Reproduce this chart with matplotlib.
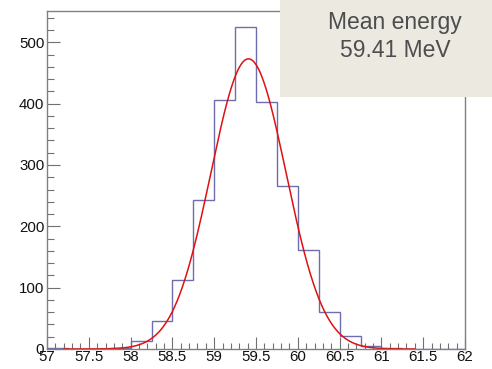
import numpy as np
import matplotlib
matplotlib.use("Agg")
import matplotlib.pyplot as plt
from matplotlib.patches import Rectangle
from matplotlib.ticker import MultipleLocator

# Data
bin_edges = [57.0, 57.25, 57.5, 57.75, 58.0, 58.25, 58.5, 58.75, 59.0, 59.25,
             59.5, 59.75, 60.0, 60.25, 60.5, 60.75, 61.0, 61.25, 61.5, 61.75, 62.0]
counts = [1, 0, 0, 1, 13, 46, 112, 243, 406, 525, 402, 266, 161, 60, 22, 5, 1, 0, 0, 0]
fit_amplitude = 473.0
fit_mean = 59.41
fit_sigma = 0.45
fit_range = (57.2, 61.4)
label_lines = ["Mean energy", "59.41 MeV"]
xtick_labels = ['57', '57.5', '58', '58.5', '59', '59.5', '60', '60.5', '61', '61.5', '62']

plt.rcParams['font.family'] = ['Liberation Sans', 'DejaVu Sans']

fig = plt.figure(figsize=(4.92, 3.69), dpi=100)
ax = fig.add_axes([47/492, 1-349/369, (465-47)/492, (349-11)/369])

ax.stairs(counts, bin_edges, color='#6e6eae', linewidth=1.0)
xf = np.linspace(fit_range[0], fit_range[1], 600)
yf = fit_amplitude * np.exp(-0.5 * ((xf - fit_mean) / fit_sigma) ** 2)
ax.plot(xf, yf, color='#e01010', linewidth=1.1)

ax.set_xlim(57, 62)
ax.set_ylim(0, 551)
ax.xaxis.set_minor_locator(MultipleLocator(0.1))
ax.yaxis.set_major_locator(MultipleLocator(100))
ax.yaxis.set_minor_locator(MultipleLocator(20))
ax.set_xticks(np.arange(57, 62.01, 0.5))
ax.set_xticklabels(xtick_labels)

for s in ax.spines.values():
    s.set_color('#808080')
    s.set_linewidth(1.0)
ax.tick_params(axis='x', which='major', direction='in', length=9, width=0.8, color='#707070',
               labelsize=10.8, pad=1, labelcolor='#111111')
ax.tick_params(axis='x', which='minor', direction='in', length=4, width=0.8, color='#707070')
ax.tick_params(axis='y', which='major', direction='in', length=9.5, width=0.8, color='#707070',
               labelsize=10.8, pad=2, labelcolor='#111111')
ax.tick_params(axis='y', which='minor', direction='in', length=5, width=0.8, color='#707070')

# Label box
box = Rectangle((280/492, 1-97/369), (492-280)/492, 97/369, transform=fig.transFigure,
                facecolor='#ebe9e0', edgecolor='none', zorder=5)
fig.patches.append(box)
fig.text(395/492, 1-28.5/369, label_lines[0], ha='center', va='baseline', fontsize=16.5,
         color='#4d4d4d', zorder=6)
fig.text(395/492, 1-57/369, label_lines[1], ha='center', va='baseline', fontsize=16.5,
         color='#4d4d4d', zorder=6)

fig.savefig('out.png', dpi=100)
